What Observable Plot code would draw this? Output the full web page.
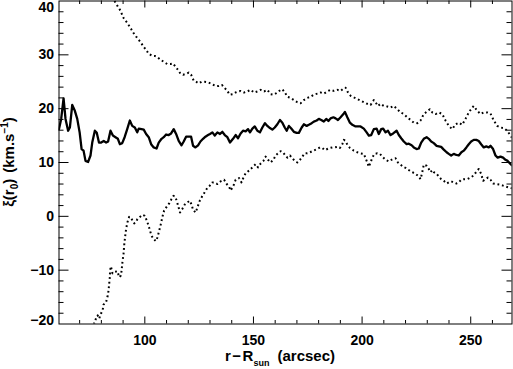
<!DOCTYPE html>
<html>
<head>
<meta charset="utf-8">
<script src="https://cdn.jsdelivr.net/npm/d3@7"></script>
<script src="https://cdn.jsdelivr.net/npm/@observablehq/plot@0.6"></script>
<style>
  html, body { margin: 0; padding: 0; background: #fff; }
  #chart svg { display: block; }
</style>
</head>
<body>
<div id="chart"></div>
<script>
// ---- data (r - R_sun in arcsec, xi(r0) in km/s) ----
const midX = [60.5,61.5,62.6,63.5,64.7,65.5,66.6,67.8,68.9,70.0,70.9,71.8,72.7,73.9,75.0,75.8,77.0,77.9,78.9,79.9,81.1,82.2,83.1,84.2,85.3,86.5,87.6,88.5,89.6,90.7,91.9,93.1,94.2,95.4,96.5,97.2,98.5,99.5,100.6,101.8,102.9,104.1,105.4,106.4,107.7,108.7,109.8,111.0,112.1,113.3,114.4,115.6,116.9,117.9,119.0,120.2,121.3,122.2,123.3,124.5,125.6,126.8,127.9,129.1,130.0,131.1,132.2,133.4,134.6,135.7,136.8,138.0,139.2,140.6,141.8,142.9,144.1,145.2,146.4,147.5,148.4,149.5,150.6,151.8,153.0,154.1,155.3,156.4,157.6,158.7,159.8,161.0,162.2,163.3,164.4,165.3,166.3,167.4,168.6,169.9,170.9,172.2,173.2,174.5,175.5,176.8,177.8,179.1,180.1,181.2,182.4,183.5,184.5,185.5,186.8,187.8,188.9,190.1,191.4,192.1,193.2,194.4,195.5,197.0,198.4,199.3,200.8,202.1,203.1,204.2,205.4,206.7,207.7,208.8,209.7,210.8,211.9,213.1,214.3,215.9,216.9,218.0,219.2,220.5,221.5,222.8,223.8,225.1,226.1,227.2,228.4,229.7,230.7,231.8,233.0,234.3,235.3,236.4,237.6,238.9,239.9,241.0,242.2,243.4,244.5,245.7,246.8,248.0,249.1,250.2,251.4,252.6,253.7,254.8,256.0,257.2,258.3,259.1,260.3,261.4,262.4,263.7,264.9,266.0,267.0,268.3,269.0];
const midY = [16.2,18.1,21.9,18.1,15.9,16.5,20.7,19.6,18.1,15.6,12.5,12.2,10.3,10.1,11.3,13.7,15.9,15.5,13.7,13.7,14.0,13.7,13.9,15.9,15.0,14.7,14.4,13.4,13.6,14.7,16.2,17.8,16.8,16.5,15.6,16.3,16.2,16.1,15.3,14.7,13.4,12.8,12.6,13.7,14.4,14.7,15.2,15.1,15.4,16.2,15.3,14.0,13.2,13.9,14.8,14.8,14.8,13.1,12.8,13.2,13.9,14.4,14.8,15.1,15.3,15.6,15.0,15.6,15.3,15.7,15.1,14.7,13.7,14.4,15.1,14.5,15.4,15.9,15.8,16.2,15.6,16.3,16.7,15.9,15.6,16.5,17.3,16.8,16.4,16.1,16.5,17.1,17.9,17.4,16.5,15.9,16.8,16.3,15.7,15.5,15.5,16.5,17.1,16.8,17.0,17.3,17.6,17.8,18.1,17.9,17.6,18.1,17.7,18.2,18.4,18.2,17.9,18.4,19.0,19.4,18.4,17.4,17.0,16.7,16.7,16.7,16.3,15.6,15.0,15.1,16.2,16.3,15.3,16.2,16.3,15.6,15.9,15.1,15.4,15.9,15.1,14.5,13.9,13.4,13.5,13.2,12.8,12.5,12.6,13.7,14.4,14.7,14.4,13.9,13.6,13.1,13.0,12.9,12.4,11.9,11.6,11.3,11.6,11.4,11.3,11.9,12.2,12.8,13.4,13.9,14.2,14.2,14.0,13.4,12.8,13.0,12.8,13.1,12.5,11.3,10.9,11.1,10.9,10.5,10.3,9.7,9.5];

const upX = [82.0,84.0,86.5,87.7,88.8,89.6,90.3,91.6,92.6,93.7,94.9,96.0,97.2,98.3,99.5,100.6,101.8,103.4,104.6,105.7,106.9,108.7,110.3,111.8,113.0,114.1,115.3,116.4,117.6,119.2,120.2,121.3,122.5,123.6,124.8,126.1,127.4,129.0,130.2,131.7,132.8,134.0,135.5,136.6,137.8,139.1,140.5,141.7,142.9,144.1,145.7,147.2,148.7,150.3,151.8,153.3,154.9,156.4,157.9,159.4,161.0,162.5,163.3,164.5,165.6,167.1,168.6,170.2,171.7,173.2,174.8,176.3,177.8,179.4,180.9,182.4,184.0,185.5,187.0,188.6,190.1,191.6,192.4,193.2,194.7,196.2,197.8,199.3,200.8,202.4,203.9,205.4,206.2,207.3,208.5,210.0,211.6,213.1,214.6,216.2,217.7,219.2,220.8,222.3,223.8,225.4,226.9,228.4,230.0,231.2,232.3,233.8,235.3,236.9,238.4,239.9,241.5,243.0,244.5,246.1,247.6,249.1,250.7,251.4,253.0,254.5,256.0,257.6,259.1,260.6,262.2,263.7,265.2,266.8,268.3,269.0];
const upY = [43.0,41.4,39.7,38.9,38.2,37.4,36.8,36.1,35.5,34.8,34.0,33.4,32.8,32.2,31.5,30.9,30.2,29.8,29.8,29.6,29.2,28.7,28.3,28.3,28.4,27.8,27.2,26.5,26.3,26.5,26.7,26.3,25.2,25.0,24.7,25.0,25.0,24.9,24.7,24.4,24.2,24.2,24.4,23.9,23.4,22.6,22.7,23.0,23.2,23.3,23.0,23.2,23.5,23.0,23.2,23.5,23.2,23.5,22.7,22.6,23.0,23.5,23.6,23.0,22.2,22.0,21.6,21.2,21.0,21.6,22.0,22.2,22.6,22.8,23.0,22.8,23.2,23.5,23.3,23.5,23.3,23.8,23.9,23.2,22.4,22.1,21.8,21.5,21.2,20.9,20.7,21.6,21.2,20.5,20.9,20.5,20.4,20.2,20.5,19.9,19.3,19.0,18.4,17.9,17.4,17.3,17.8,19.0,19.5,19.9,19.3,19.0,19.3,19.0,17.8,16.8,16.2,17.1,17.4,17.0,18.1,19.3,20.2,20.5,19.6,19.0,19.3,19.3,19.1,17.8,16.8,16.5,16.4,15.9,15.0,14.6];

const lowX = [74.5,75.8,76.7,77.5,78.3,79.0,79.8,80.6,81.0,82.1,82.8,83.3,83.6,83.9,84.0,84.4,85.1,86.2,87.4,88.2,89.0,89.3,89.7,90.2,90.5,90.9,91.4,92.0,92.8,93.6,94.3,95.1,95.9,96.6,97.8,98.9,100.0,100.9,101.7,102.4,103.1,104.0,105.1,105.8,106.6,107.4,108.1,108.9,110.1,111.2,112.3,113.2,113.9,114.7,115.3,116.2,117.3,118.4,119.6,120.7,121.5,122.2,123.4,124.5,125.4,126.5,127.6,128.8,129.9,131.1,131.9,133.4,134.9,136.5,137.7,138.8,139.5,140.8,141.8,143.4,144.5,145.4,146.4,148.0,149.5,151.0,152.1,153.3,154.6,155.6,156.7,157.9,159.2,160.2,161.3,162.5,163.6,164.5,165.6,166.8,167.9,169.0,170.2,171.4,172.5,173.6,174.8,176.0,177.1,178.2,179.4,180.6,181.7,182.8,184.0,185.2,186.3,187.4,188.6,189.8,190.9,191.6,192.4,193.2,194.4,196.2,197.8,199.3,200.8,201.6,202.4,203.1,203.9,204.7,205.7,207.0,208.2,209.3,210.8,212.3,213.9,215.4,216.5,217.7,218.9,220.0,221.5,223.1,224.6,226.1,226.9,227.7,228.4,229.7,230.7,231.5,232.3,233.0,234.3,235.3,236.4,237.6,238.9,239.9,241.0,242.2,243.4,244.5,245.6,246.8,248.4,249.9,251.4,252.6,253.7,254.8,255.7,256.8,257.9,259.1,260.3,261.8,263.4,264.9,266.4,267.9,269.0];
const lowY = [-22.5,-21.0,-19.9,-19.0,-18.4,-19.0,-18.1,-17.4,-16.4,-16.0,-15.0,-13.8,-12.5,-11.3,-10.1,-9.3,-10.6,-10.3,-10.2,-11.3,-11.0,-10.1,-8.5,-7.0,-5.4,-3.9,-2.3,-1.1,-0.1,-0.2,-0.8,-1.3,-1.1,-0.5,-0.1,0.3,0.1,-0.8,-1.7,-2.7,-3.6,-4.2,-4.6,-3.9,-2.7,-1.4,-0.1,1.1,1.8,2.4,3.2,3.8,3.7,2.9,2.0,0.7,1.4,2.2,2.6,2.9,2.2,1.2,0.7,2.0,3.0,3.8,4.5,5.3,5.7,6.3,6.3,6.0,6.5,6.8,6.0,5.5,4.8,5.7,6.8,7.1,6.3,7.2,8.0,8.5,9.1,9.7,9.1,9.8,10.3,11.1,10.5,10.0,10.5,11.3,11.7,12.1,11.9,11.4,10.9,11.3,10.8,10.3,10.0,10.5,11.1,11.7,11.7,11.9,12.1,12.3,12.5,12.8,12.7,12.3,12.5,12.7,12.8,12.8,12.9,12.7,13.4,14.2,14.0,13.3,12.7,12.2,11.9,11.7,11.6,10.8,10.0,9.2,10.0,10.9,11.6,11.7,11.6,11.1,10.5,10.2,10.6,10.8,10.0,9.6,9.2,9.0,8.6,8.2,7.9,7.4,6.9,8.2,9.6,9.4,8.8,8.2,8.6,8.2,7.9,7.4,6.9,6.6,6.1,6.3,6.5,6.3,6.1,6.3,6.8,6.9,6.9,7.2,7.6,8.3,8.8,7.9,6.6,6.9,7.2,6.8,6.1,6.0,5.9,5.7,5.5,5.3,5.2];

// ---- axes ----
const xDomain = [60.5, 269];
const yDomain = [-20, 40];
const xTickLabels = [100, 150, 200, 250];
const yTickLabels = [-20, -10, 0, 10, 20, 30, 40];
const xMinor = d3.range(70, 269, 10).filter(v => !xTickLabels.includes(v));
const yMinor = d3.range(-20, 41, 2).filter(v => !yTickLabels.includes(v));

const W = 513, H = 369;
const mL = 58.5, mR = 1.5, mT = 0.5, mB = 45.5;
const frameW = W - mL - mR, frameH = H - mT - mB;

const toRows = (xs, ys) => xs.map((x, i) => ({x, y: ys[i]}));
const mid = toRows(midX, midY), up = toRows(upX, upY), low = toRows(lowX, lowY);

const dotted = {x: "x", y: "y", stroke: "black", strokeWidth: 2, strokeDasharray: "1.8,2.8", strokeLinecap: "butt", clip: true};
const innerY = yTickLabels.filter(v => v > -20 && v < 40);

const chart = Plot.plot({
  width: W, height: H,
  marginLeft: mL, marginRight: mR, marginTop: mT, marginBottom: mB,
  style: {fontFamily: "'Liberation Sans', Arial, Helvetica, sans-serif", fontSize: "14px", fontWeight: "bold", color: "black", background: "white"},
  x: {domain: xDomain, axis: null},
  y: {domain: yDomain, axis: null},
  marks: [
    Plot.lineY(up, dotted),
    Plot.lineY(low, dotted),
    Plot.lineY(mid, {x: "x", y: "y", stroke: "black", strokeWidth: 2.3, clip: true}),
    // inward ticks (IDL style box)
    Plot.ruleY(innerY, {insetRight: frameW - 10}),
    Plot.ruleY(innerY, {insetLeft: frameW - 10}),
    Plot.ruleY(yMinor, {insetRight: frameW - 5}),
    Plot.ruleY(yMinor, {insetLeft: frameW - 5}),
    Plot.ruleX(xTickLabels, {insetTop: frameH - 7}),
    Plot.ruleX(xTickLabels, {insetBottom: frameH - 7}),
    Plot.ruleX(xMinor, {insetTop: frameH - 3.5}),
    Plot.ruleX(xMinor, {insetBottom: frameH - 3.5}),
    Plot.frame({stroke: "black", strokeWidth: 1}),
    // tick labels
    Plot.axisX({ticks: xTickLabels, tickSize: 0, tickPadding: 11, label: null}),
    Plot.axisY({ticks: innerY, tickSize: 0, tickPadding: 5, label: null}),
    Plot.axisY({ticks: [40], tickSize: 0, tickPadding: 5, label: null, dy: 7}),
    Plot.axisY({ticks: [-20], tickSize: 0, tickPadding: 5, label: null, dy: -3})
  ]
});

document.getElementById("chart").appendChild(chart);

// axis titles with sub/superscripts
const svg = d3.select(chart);
const font = "'Liberation Sans', Arial, Helvetica, sans-serif";

const xl = svg.append("text")
  .attr("x", 280).attr("y", 361)
  .attr("text-anchor", "middle")
  .attr("font-family", font).attr("font-size", 15).attr("font-weight", "bold").attr("fill", "black");
xl.append("tspan").text("r");
xl.append("tspan").attr("dx", 1.5).text("−");
xl.append("tspan").attr("dx", 1.5).text("R");
xl.append("tspan").attr("font-size", 9).attr("dy", 5).text("sun");
xl.append("tspan").attr("dy", -5).attr("dx", 8).text("(arcsec)");

const yl = svg.append("text")
  .attr("transform", "translate(14,162) rotate(-90)")
  .attr("text-anchor", "middle")
  .attr("font-family", font).attr("font-size", 15).attr("font-weight", "bold").attr("fill", "black");
yl.append("tspan").text("ξ(r");
yl.append("tspan").attr("font-size", 10).attr("dy", 4).text("0");
yl.append("tspan").attr("dy", -4).text(")");
yl.append("tspan").attr("dx", 6).text("(km.s");
yl.append("tspan").attr("font-size", 10).attr("dy", -6).text("−1");
yl.append("tspan").attr("dy", 6).text(")");
</script>
</body>
</html>
